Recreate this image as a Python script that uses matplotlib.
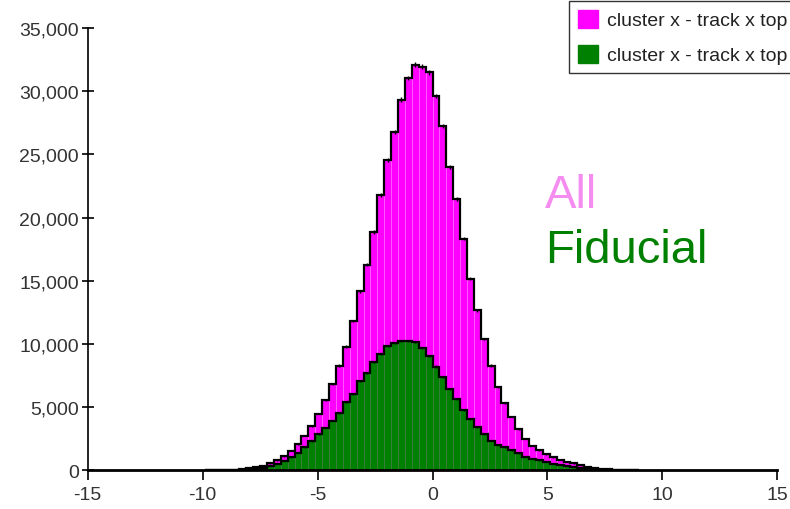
import numpy as np
import matplotlib
matplotlib.use("Agg")
import matplotlib.pyplot as plt
from matplotlib import ticker
from matplotlib.patches import Patch

plt.rcParams['font.family'] = ['Liberation Sans', 'DejaVu Sans']
plt.rcParams['axes.unicode_minus'] = False

# histogram binning: 0.3 wide bins, counts listed from the first filled bin
bin_width = 0.3
first_edge = -9.9

# all clusters
counts_all = [5, 10, 20, 35, 60, 100, 170, 260, 380, 560,
              800, 1120, 1560, 2100, 2760, 3500, 4500, 5600, 6850, 8300,
              9800, 11820, 14160, 16280, 18860, 21770, 24540, 26790, 29340, 31060,
              32100, 31950, 31500, 29600, 27230, 24010, 21500, 18330, 15170, 12660,
              10410, 8300, 6590, 5320, 4260, 3300, 2530, 1960, 1620, 1300,
              1040, 830, 700, 570, 440, 300, 200, 120, 80, 50,
              30, 15, 5]

# fiducial region only
counts_fid = [0, 0, 0, 5, 15, 35, 70, 130, 220, 350,
              530, 760, 1060, 1420, 1850, 2330, 2850, 3400, 3940, 4530,
              5400, 6060, 7110, 7700, 8570, 9230, 9860, 10070, 10230, 10250,
              10150, 9700, 9050, 8220, 7380, 6450, 5660, 4790, 4080, 3420,
              2890, 2360, 2040, 1840, 1620, 1360, 1100, 940, 800, 660,
              540, 430, 340, 260, 190, 130, 80, 50, 30, 15,
              5, 0, 0]

legend_labels = ['cluster x - track x top', 'cluster x - track x top']

counts_all = np.array(counts_all, dtype=float)
counts_fid = np.array(counts_fid, dtype=float)
edges = first_edge + bin_width * np.arange(len(counts_all) + 1)
centers = 0.5 * (edges[:-1] + edges[1:])

fig = plt.figure(figsize=(7.9, 5.1), dpi=100)
ax = fig.add_axes([0.111, 0.0755, 0.873, 0.8676])

for counts, face, edge in [(counts_all, '#ff00ff', '#ff66ff'),
                           (counts_fid, '#008000', '#3f803f')]:
    ax.bar(centers, counts, width=bin_width, color=face, edgecolor=edge,
           linewidth=0.5, zorder=2)
    ax.stairs(counts, edges, color='black', linewidth=1.6, zorder=3)
    ax.errorbar(centers, counts, yerr=np.sqrt(counts), fmt='none',
                ecolor='black', elinewidth=1.0, zorder=4)

ax.set_xlim(-15, 15)
ax.set_ylim(0, 35000)
ax.set_xticks(np.arange(-15, 16, 5))
ax.set_yticks(np.arange(0, 35001, 5000))
ax.yaxis.set_major_formatter(ticker.FuncFormatter(lambda v, p: f'{int(v):,}'))

for side in ['top', 'right']:
    ax.spines[side].set_visible(False)
ax.spines['left'].set_linewidth(1.2)
ax.spines['bottom'].set_linewidth(2.0)
ax.tick_params(axis='y', direction='inout', length=9, width=1.2,
               labelsize=14, labelcolor='#333333', pad=2)
ax.tick_params(axis='x', direction='out', length=7, width=1.2,
               labelsize=14, labelcolor='#333333', pad=4)

ax.text(0.690, 0.592, 'All', transform=fig.transFigure, fontsize=34,
        color='#f58cf0')
ax.text(0.690, 0.484, 'Fiducial', transform=fig.transFigure, fontsize=34,
        color='#008000')

handles = [Patch(facecolor='#ff00ff', edgecolor='#ff00ff'),
           Patch(facecolor='#008000', edgecolor='#008000')]
leg = fig.legend(handles, legend_labels, loc='upper left',
                 bbox_to_anchor=(0.720, 0.996), fontsize=14,
                 frameon=True, fancybox=False, handlelength=1.03,
                 handleheight=1.03, handletextpad=0.48, borderpad=0.45,
                 labelspacing=0.8, borderaxespad=0)
leg.get_frame().set_edgecolor('black')
leg.get_frame().set_linewidth(1.0)
for t in leg.get_texts():
    t.set_color('#222222')

fig.savefig('out.png', dpi=100)
